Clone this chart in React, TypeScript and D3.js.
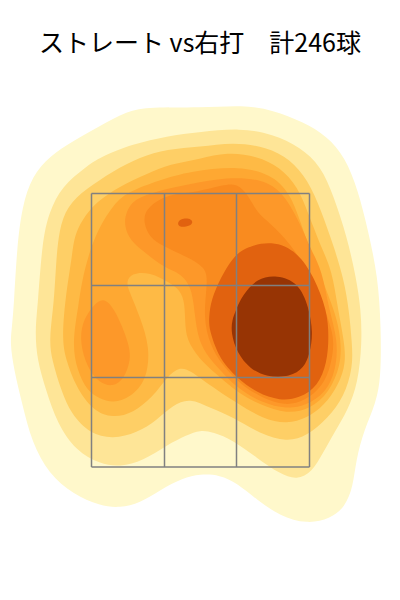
import React from "react";
import * as d3 from "d3";

type P = [number, number];

const titleText = "ストレート vs右打　計246球";
const zoneX = [-108.5, -35.5, 36.5, 109.5];
const zoneY = [136.5, 44.5, -47.5, -137];
const colors = ["#fff8cb", "#fee597", "#fecf66", "#feba45", "#fea832", "#fd9829", "#f98b1f", "#e1620f", "#973404"];

const level1: P[] = [[0,222],[43,225],[73,220],[103,208],[127,194],[145,173],[158,140],[168,100],[178,53],[181,3],[181,-47],[176,-73],[164,-100],[156,-130],[153,-157],[145,-177],[130,-189],[107,-194],[80,-186],[57,-170],[37,-153],[20,-145],[0,-144],[-17,-148],[-40,-160],[-60,-173],[-80,-178],[-100,-176],[-127,-164],[-151,-144],[-168,-113],[-178,-73],[-186,-40],[-190,-13],[-188,3],[-186,27],[-183,83],[-178,123],[-168,154],[-150,174],[-127,189],[-100,204],[-73,219],[-50,223]];
const level2: P[] = [[0,198],[40,202],[73,196],[100,183],[121,164],[134,133],[147,93],[156,53],[161,20],[162,-13],[158,-53],[148,-80],[134,-103],[123,-123],[112,-142],[97,-150],[80,-144],[57,-128],[33,-110],[13,-102],[0,-100],[-13,-105],[-33,-115],[-57,-131],[-80,-137],[-100,-134],[-124,-121],[-143,-93],[-154,-60],[-163,-30],[-165,0],[-162,27],[-158,87],[-151,118],[-138,144],[-114,163],[-100,173],[-67,186],[-33,194]];
const level3: P[] = [[0,183],[33,188],[67,183],[90,171],[108,150],[121,120],[134,83],[144,50],[149,20],[152,-13],[153,-37],[144,-67],[128,-88],[107,-106],[87,-112],[60,-104],[33,-87],[10,-78],[-10,-68],[-27,-75],[-43,-90],[-63,-103],[-87,-109],[-110,-104],[-129,-84],[-139,-60],[-148,-30],[-151,-10],[-146,27],[-144,67],[-141,100],[-133,124],[-114,141],[-87,159],[-60,173],[-33,181]];
const level4: P[] = [[0,171],[27,178],[57,174],[80,163],[98,143],[108,117],[121,83],[132,60],[138,20],[144,-10],[146,-33],[139,-54],[124,-76],[107,-88],[87,-94],[63,-89],[37,-73],[17,-60],[0,-48],[-8,-42],[-20,-36],[-33,-47],[-47,-67],[-67,-83],[-87,-88],[-107,-81],[-124,-57],[-134,-30],[-138,-10],[-135,30],[-128,73],[-126,93],[-118,110],[-104,128],[-80,144],[-53,156],[-30,166]];
const level5: P[] = [[-10,159],[40,164],[70,156],[91,138],[106,90],[119,60],[126,40],[136,15],[141,-10],[141,-35],[129,-63],[110,-79],[87,-84],[60,-75],[37,-62],[20,-47],[3,-33],[-12,-13],[-15,3],[-15,27],[-20,40],[-30,47],[-50,58],[-69,57],[-74,47],[-70,37],[-60,13],[-50,-17],[-53,-50],[-70,-68],[-87,-73],[-100,-69],[-113,-61],[-123,-40],[-128,-13],[-121,27],[-119,45],[-108,90],[-88,124],[-73,138],[-40,150]];
const level6Main: P[] = [[-76,105],[-74,118],[-66,131],[-43,139],[-10,146],[27,153],[62,151],[83,138],[101,105],[111,80],[122,60],[129,20],[138,-10],[136,-40],[126,-63],[105,-76],[87,-79],[62,-73],[37,-58],[20,-40],[5,-23],[-2,-7],[-5,13],[-8,43],[-20,57],[-35,62],[-53,76],[-70,89]];
const level6Lobe: P[] = [[-97,34],[-85,21],[-71,-13],[-69,-30],[-76,-49],[-87,-57],[-101,-53],[-113,-37],[-120,-13],[-118,7],[-109,22]];
const level7: P[] = [[-57,108],[-54,121],[-40,131],[-27,136],[-3,138],[23,145],[37,147],[49,134],[57,117],[70,107],[90,87],[107,60],[119,40],[124,23],[132,0],[134,-15],[131,-35],[123,-56],[105,-71],[85,-76],[62,-68],[40,-54],[22,-35],[10,-15],[3,13],[8,50],[5,63],[-13,73],[-37,84],[-50,92]];
const level8Main: P[] = [[72,90],[98,78],[114,53],[127,20],[129,-7],[127,-33],[118,-56],[100,-68],[80,-71],[57,-63],[37,-48],[28,-38],[19,-27],[9,0],[9,13],[11,30],[21,53],[32,71],[43,82]];
const level8Dot: P[] = [[-23,108],[-17,112],[-8,111],[-7,106],[-14,103],[-21,103]];
const level9: P[] = [[77,55],[98,48],[109,23],[113,-3],[110,-23],[104,-38],[90,-47],[67,-47],[50,-39],[37,-23],[31,-3],[32,10],[36,20],[42,34],[57,52]];

const bands: { rings: P[][]; color: string }[] = [
  { rings: [level1], color: colors[0] },
  { rings: [level2], color: colors[1] },
  { rings: [level3], color: colors[2] },
  { rings: [level4], color: colors[3] },
  { rings: [level5], color: colors[4] },
  { rings: [level6Main, level6Lobe], color: colors[5] },
  { rings: [level7], color: colors[6] },
  { rings: [level8Main, level8Dot], color: colors[7] },
  { rings: [level9], color: colors[8] },
];

const x = d3.scaleLinear().domain([-200, 200]).range([0, 400]);
const y = d3.scaleLinear().domain([330, -270]).range([0, 600]);
const ring = d3
  .line<P>()
  .x((d) => x(d[0]))
  .y((d) => y(d[1]))
  .curve(d3.curveBasisClosed);

export default function App() {
  return (
    <svg
      width={400}
      height={600}
      viewBox="0 0 400 600"
      style={{ position: "absolute", left: 0, top: 0, display: "block", background: "#fff" }}
    >
      <text
        x={200}
        y={52}
        textAnchor="middle"
        fontSize={25}
        fill="#000"
        fontFamily="'Noto Sans CJK JP', 'DejaVu Sans', sans-serif"
      >
        {titleText}
      </text>
      {bands.map((b, i) =>
        b.rings.map((r, j) => <path key={`${i}-${j}`} d={ring(r) ?? ""} fill={b.color} stroke="none" />)
      )}
      <g stroke="#808080" strokeWidth={1.5} fill="none">
        {zoneX.map((v) => (
          <line key={`v${v}`} x1={x(v)} x2={x(v)} y1={y(zoneY[0])} y2={y(zoneY[3])} />
        ))}
        {zoneY.map((v) => (
          <line key={`h${v}`} x1={x(zoneX[0])} x2={x(zoneX[3])} y1={y(v)} y2={y(v)} />
        ))}
      </g>
    </svg>
  );
}
